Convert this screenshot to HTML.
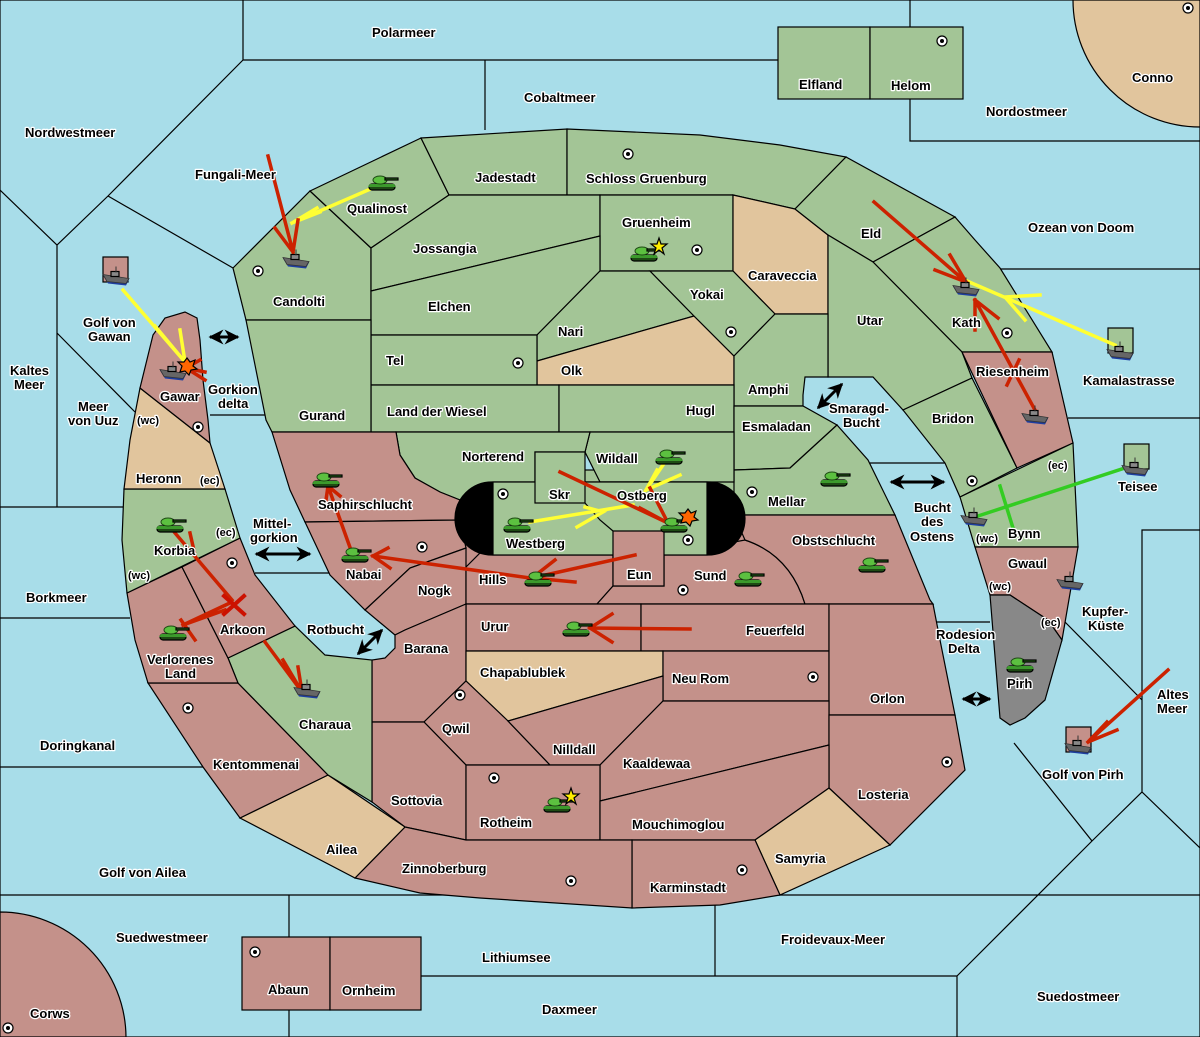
<!DOCTYPE html>
<html><head><meta charset="utf-8"><style>
html,body{margin:0;padding:0;background:#a8dde9}
svg{display:block}
text{font-family:"Liberation Sans",sans-serif;font-weight:bold;font-size:13px;fill:#000;stroke:#fff;stroke-width:2.5px;paint-order:stroke;stroke-linejoin:round}
.g{fill:#a3c596}.r{fill:#c4918a}.t{fill:#e1c59d}
polygon,rect,path.l{stroke:#000;stroke-width:1.2}
.sl{stroke:#000;stroke-width:1.2;fill:none}
</style></head><body>
<svg width="1200" height="1037" viewBox="0 0 1200 1037" xmlns="http://www.w3.org/2000/svg">
<defs>
<symbol id="tk" viewBox="0 0 32 18">
<rect x="2" y="10" width="26" height="6" rx="3" fill="#1e4a14"/>
<path d="M3 10 L27 10 L29 13 L1 13 Z" fill="#3c9a2c"/>
<ellipse cx="13" cy="6" rx="7" ry="4" fill="#5cc040" stroke="#1e4a14" stroke-width="1"/>
<rect x="18" y="4" width="13" height="2" fill="#2e7a20"/>
</symbol>
<symbol id="sh" viewBox="0 0 30 20">
<path d="M1 9 L27 13 L24 19 L6 17 Z" fill="#1e3ea0"/>
<path d="M1 8 L27 12 L24 17 L5 15 Z" fill="#666" stroke="#333" stroke-width="0.8"/>
<rect x="9" y="5" width="8" height="5" fill="#888" stroke="#333" stroke-width="0.6"/>
<line x1="14" y1="0" x2="14" y2="6" stroke="#333" stroke-width="1"/>
</symbol>
<symbol id="sc" viewBox="0 0 12 12"><circle cx="6" cy="6" r="5" fill="#fff" stroke="#000" stroke-width="1.2"/><circle cx="6" cy="6" r="2" fill="#000"/></symbol>
<marker id="ah" viewBox="0 0 10 10" refX="9" refY="5" markerWidth="5" markerHeight="5" orient="auto-start-reverse"><path d="M0 0 L10 5 L0 10 L3 5 Z" fill="#000"/></marker>
</defs>
<rect width="1200" height="1037" fill="#a8dde9" stroke="#000" stroke-width="2"/>
<path class="sl" d="M243 0 V60 H778 M485 60 V130 M910 0 V27 M910 99 V141 H1200 M243 60 L108 196 L57 245 L0 190 M108 196 L233 268 M57 245 V507 M57 333 L135 412 M0 507 H124 M0 618 H130 M0 767 H203 M0 895 H1200 M289 895 V937 M289 1010 V1037 M421 976 H957 V1037 M715 905 V976 M957 976 L1092 841 L1014 743 M1092 841 L1142 792 L1200 848 M1142 792 V530 H1200 M1065 622 L1142 700 M997 269 H1200 M1068 418 H1200 M210 415 H265 M255 573 H330 M870 463 H945 M935 622 H990"/>
<path d="M1073 0 A127 127 0 0 0 1200 127 V0 Z" class="t" stroke="#000" stroke-width="1.2"/>
<path d="M0 912 A126 126 0 0 1 126 1037 H0 Z" class="r" stroke="#000" stroke-width="1.2"/>
<rect x="778" y="27" width="92" height="72" class="g"/><rect x="870" y="27" width="93" height="72" class="g"/>
<rect x="242" y="937" width="88" height="73" class="r"/><rect x="330" y="937" width="91" height="73" class="r"/>
<rect x="103" y="257" width="25" height="25" class="r"/><rect x="1108" y="328" width="25" height="25" class="g"/>
<rect x="1124" y="444" width="25" height="25" class="g"/><rect x="1066" y="727" width="25" height="25" class="r"/>
<!-- background fill behind stadium -->
<rect x="440" y="470" width="320" height="48" fill="#a3c596"/>
<rect x="440" y="518" width="320" height="50" fill="#c4918a"/>
<polygon class="g" points="233,268 310,191 371,248 371,320 246,320"/>
<polygon class="g" points="310,191 421,138 449,195 371,248"/>
<polygon class="g" points="421,138 567,129 567,195 449,195"/>
<polygon class="g" points="567,129 700,135 780,145 846,157 795,209 733,195 567,195"/>
<polygon class="g" points="449,195 600,195 600,236 371,291 371,248"/>
<polygon class="g" points="600,195 733,195 733,271 600,271"/>
<polygon class="g" points="371,291 600,236 600,271 537,335 371,335"/>
<polygon class="t" points="733,195 795,209 828,235 828,314 775,314 733,271"/>
<polygon class="g" points="795,209 846,157 955,217 873,262 828,235"/>
<polygon class="g" points="873,262 955,217 975,240 1000,268 1052,352 962,352"/>
<polygon class="g" points="828,235 873,262 962,352 972,378 903,410 873,377 828,377"/>
<polygon class="g" points="537,335 600,271 650,271 694,316 537,361"/>
<polygon class="t" points="537,361 694,316 734,356 734,385 537,385"/>
<polygon class="g" points="650,271 733,271 775,314 734,356 694,316"/>
<polygon class="g" points="371,335 537,335 537,385 371,385"/>
<polygon class="g" points="734,356 775,314 828,314 828,377 805,377 803,395 803,406 734,406"/>
<polygon class="g" points="371,385 559,385 559,432 371,432"/>
<polygon class="g" points="559,385 734,385 734,432 559,432"/>
<polygon class="g" points="734,406 803,406 837,425 790,468 734,470"/>
<polygon class="g" points="246,320 371,320 371,432 272,432 266,420 258,380"/>
<polygon class="g" points="903,410 972,378 1017,468 960,497 945,463"/>
<polygon class="r" points="962,352 1052,352 1073,443 1017,468"/>
<polygon class="g" points="960,497 1073,443 1078,547 975,547"/>
<polygon class="r" points="975,547 1078,547 1062,640 1048,620 1010,595 990,595"/>
<path class="l" fill="#888" d="M990 595 L1010 595 L1048 620 L1062 640 L1045 700 L1025 718 L1010 725 L1000 718 Z"/>
<polygon class="g" points="734,470 790,468 837,425 868,460 895,515 734,515"/>
<polygon class="g" points="590,432 734,432 734,482 600,482 585,452"/>
<path class="l g" d="M396 432 L590 432 L585 452 L535 452 L535 482 L460 500 L440 492 L415 478 L400 455 Z"/>
<path class="l r" d="M272 432 L396 432 L400 455 L415 478 L440 492 L460 500 L460 520 L305 522 L290 490 Z"/>
<polygon class="r" points="305,522 460,520 466,548 410,568 365,610 330,575"/>
<polygon class="r" points="365,610 410,568 466,548 466,604 405,630 395,635"/>
<polygon class="r" points="466,567 480,553 613,553 613,586 597,604 466,604"/>
<path class="l r" d="M597 604 L613 586 L664 586 L664 555 L745 540 Q790 555 805 604 Z"/>
<path class="l r" d="M734 515 L895 515 L930 600 L933 604 L805 604 Q790 555 745 540 Z"/>
<polygon class="r" points="466,604 641,604 641,651 466,651"/>
<polygon class="r" points="641,604 829,604 829,651 641,651"/>
<path class="l r" d="M405 630 L466 604 L466 681 L424 722 L372 722 L372 660 L385 658 L395 648 L395 635 Z"/>
<polygon class="t" points="466,651 663,651 663,676 508,721 466,681"/>
<polygon class="r" points="663,651 829,651 829,701 663,701"/>
<polygon class="r" points="829,604 933,604 940,640 955,715 829,715"/>
<polygon class="r" points="424,722 466,681 508,721 550,765 466,765"/>
<polygon class="r" points="508,721 663,676 663,701 600,765 550,765"/>
<polygon class="r" points="600,765 663,701 829,701 829,745 600,801"/>
<polygon class="r" points="829,715 955,715 965,770 890,845 829,788"/>
<polygon class="r" points="372,722 424,722 466,765 466,840 405,827 372,802"/>
<polygon class="r" points="466,765 600,765 600,840 466,840"/>
<polygon class="r" points="600,801 829,745 829,788 755,840 600,840"/>
<polygon class="t" points="755,840 829,788 890,845 780,895"/>
<polygon class="r" points="632,840 755,840 780,895 720,905 632,908"/>
<polygon class="r" points="355,878 405,827 466,840 632,840 632,908 480,898 420,893"/>
<polygon class="t" points="240,818 328,775 405,827 355,878"/>
<polygon class="r" points="148,683 238,683 328,775 240,818 203,767"/>
<polygon class="g" points="228,658 295,626 325,655 372,660 372,802 328,775 238,683"/>
<polygon class="r" points="127,593 182,567 228,658 238,683 148,683 135,640"/>
<polygon class="r" points="182,567 240,538 255,575 295,626 228,658"/>
<polygon class="g" points="124,489 225,489 240,538 127,593 122,540"/>
<polygon class="t" points="124,489 130,440 140,388 210,443 225,489"/>
<path class="l r" d="M140 388 L153 335 L165 318 L185 312 L197 318 L200 340 L203 380 L208 420 L210 443 Z"/>
<rect x="455" y="482" width="290" height="73" rx="37" fill="#000"/>
<rect x="493" y="482" width="214" height="73" class="g"/>
<path class="sl" d="M585 503 L600 520 L613 531"/>
<rect x="535" y="452" width="50" height="51" class="g"/>
<polygon class="r" points="613,531 664,531 664,586 613,586"/>
<g>
<use href="#sc" x="936" y="35" width="12" height="12"/><use href="#sc" x="622" y="148" width="12" height="12"/><use href="#sc" x="252" y="265" width="12" height="12"/><use href="#sc" x="691" y="244" width="12" height="12"/><use href="#sc" x="725" y="326" width="12" height="12"/><use href="#sc" x="512" y="357" width="12" height="12"/><use href="#sc" x="1001" y="327" width="12" height="12"/><use href="#sc" x="192" y="421" width="12" height="12"/><use href="#sc" x="497" y="488" width="12" height="12"/><use href="#sc" x="746" y="486" width="12" height="12"/><use href="#sc" x="682" y="534" width="12" height="12"/><use href="#sc" x="416" y="541" width="12" height="12"/><use href="#sc" x="966" y="475" width="12" height="12"/><use href="#sc" x="677" y="584" width="12" height="12"/><use href="#sc" x="182" y="702" width="12" height="12"/><use href="#sc" x="226" y="557" width="12" height="12"/><use href="#sc" x="454" y="689" width="12" height="12"/><use href="#sc" x="807" y="671" width="12" height="12"/><use href="#sc" x="941" y="756" width="12" height="12"/><use href="#sc" x="488" y="772" width="12" height="12"/><use href="#sc" x="565" y="875" width="12" height="12"/><use href="#sc" x="736" y="864" width="12" height="12"/><use href="#sc" x="249" y="946" width="12" height="12"/><use href="#sc" x="2" y="1022" width="12" height="12"/><use href="#sc" x="1182" y="2" width="12" height="12"/>
</g>
<g stroke="#000" stroke-width="3" marker-start="url(#ah)" marker-end="url(#ah)">
<line x1="210" y1="337" x2="238" y2="337"/><line x1="256" y1="554" x2="310" y2="554"/><line x1="891" y1="482" x2="944" y2="482"/><line x1="963" y1="699" x2="990" y2="699"/><line x1="818" y1="408" x2="842" y2="384"/><line x1="358" y1="654" x2="382" y2="630"/>
</g>
<g stroke-width="3.5" fill="none" stroke-linecap="square">
<path stroke="#ffff33" d="M375 187 L292 223 M292 223 L317 208 M292 223 L320 212 M123 290 L185 362 M180 330 L185 362 L155 326 M1115 345 L960 278 M1040 295 L1005 297 L1025 320 M530 522 L633 505 M585 507 L603 512 L577 527 M665 462 L646 490 M657 470 L646 490 L680 475"/>
<path stroke="#33cc22" d="M1125 468 L978 516 M1000 486 L1013 528"/>
<path stroke="#cc2200" d="M268 156 L293 252 M275 228 L293 252 L298 220 M205 372 L186 368 M200 360 L186 368 L205 380 M874 202 L966 282 M935 270 L966 282 M950 255 L966 282 M1035 410 L975 300 M975 300 L998 318 M975 300 L975 330 M1019 360 L1007 385 M560 472 L668 523 M640 508 L668 523 L650 488 M635 555 L532 578 M555 560 L532 578 L575 582 M530 578 L373 556 M388 548 L373 556 L390 568 M352 553 L328 486 M326 500 L328 486 L340 496 M690 629 L590 628 M612 614 L590 628 L612 642 M175 533 L232 600 M190 533 L195 555 M265 642 L302 692 M283 660 L302 692 L298 667 M183 625 L232 602 M183 625 L225 610 M1168 670 L1088 742 M1107 722 L1088 742 L1117 730 M181 620 L195 640"/>
<path stroke="#cc1100" stroke-width="4" d="M224 596 L244 614 M244 596 L224 614"/>
</g>
<g>
<use href="#tk" x="367" y="174" width="32" height="18"/>
<use href="#sh" x="282" y="249" width="30" height="21"/>
<use href="#tk" x="629" y="245" width="32" height="18"/>
<use href="#sh" x="952" y="277" width="30" height="21"/>
<use href="#sh" x="1021" y="405" width="30" height="21"/>
<use href="#sh" x="1106" y="341" width="30" height="21"/>
<use href="#sh" x="1121" y="457" width="30" height="21"/>
<use href="#tk" x="311" y="471" width="32" height="18"/>
<use href="#tk" x="340" y="546" width="32" height="18"/>
<use href="#tk" x="155" y="516" width="32" height="18"/>
<use href="#tk" x="158" y="624" width="32" height="18"/>
<use href="#sh" x="293" y="679" width="30" height="21"/>
<use href="#tk" x="502" y="516" width="32" height="18"/>
<use href="#tk" x="654" y="448" width="32" height="18"/>
<use href="#tk" x="659" y="516" width="32" height="18"/>
<use href="#tk" x="523" y="570" width="32" height="18"/>
<use href="#tk" x="561" y="620" width="32" height="18"/>
<use href="#tk" x="733" y="570" width="32" height="18"/>
<use href="#tk" x="819" y="470" width="32" height="18"/>
<use href="#tk" x="857" y="556" width="32" height="18"/>
<use href="#sh" x="960" y="507" width="30" height="21"/>
<use href="#sh" x="1056" y="571" width="30" height="21"/>
<use href="#tk" x="1005" y="656" width="32" height="18"/>
<use href="#tk" x="542" y="796" width="32" height="18"/>
<use href="#sh" x="102" y="266" width="30" height="21"/>
<use href="#sh" x="159" y="361" width="30" height="21"/>
<use href="#sh" x="1064" y="735" width="30" height="21"/>
</g>
<g fill="#ffee00" stroke="#886600" stroke-width="0.8">
<polygon points="659,238 661,244 667,244 662,248 664,254 659,250 654,254 656,248 651,244 657,244"/>
<polygon points="571,788 573,794 579,794 574,798 576,804 571,800 566,804 568,798 563,794 569,794"/>
</g>
<g fill="#ff6600" stroke="#000" stroke-width="0.8">
<polygon points="187,358 190,362 195,360 193,366 197,369 191,370 189,375 185,371 180,372 182,366 178,362 184,362"/>
<polygon points="688,509 691,513 696,511 694,517 698,520 692,521 690,526 686,522 681,523 683,517 679,513 685,513"/>
</g>
<g>
<text x="372" y="37">Polarmeer</text><text x="524" y="102">Cobaltmeer</text><text x="799" y="89">Elfland</text><text x="891" y="90">Helom</text><text x="1132" y="82">Conno</text><text x="986" y="116">Nordostmeer</text><text x="25" y="137">Nordwestmeer</text><text x="195" y="179">Fungali-Meer</text><text x="347" y="213">Qualinost</text><text x="475" y="182">Jadestadt</text><text x="586" y="183">Schloss Gruenburg</text><text x="622" y="227">Gruenheim</text><text x="413" y="253">Jossangia</text><text x="748" y="280">Caraveccia</text><text x="861" y="238">Eld</text><text x="1028" y="232">Ozean von Doom</text><text x="273" y="306">Candolti</text><text x="428" y="311">Elchen</text><text x="690" y="299">Yokai</text><text x="558" y="336">Nari</text><text x="857" y="325">Utar</text><text x="952" y="327">Kath</text><text x="83" y="327">Golf von</text><text x="88" y="341">Gawan</text><text x="10" y="375">Kaltes</text><text x="14" y="389">Meer</text><text x="386" y="365">Tel</text><text x="561" y="375">Olk</text><text x="976" y="376">Riesenheim</text><text x="1083" y="385">Kamalastrasse</text><text x="748" y="394">Amphi</text><text x="78" y="411">Meer</text><text x="68" y="425">von Uuz</text><text x="137" y="424" style="font-size:11px">(wc)</text><text x="160" y="401">Gawar</text><text x="208" y="394">Gorkion</text><text x="218" y="408">delta</text><text x="299" y="420">Gurand</text><text x="387" y="416">Land der Wiesel</text><text x="686" y="415">Hugl</text><text x="829" y="413">Smaragd-</text><text x="843" y="427">Bucht</text><text x="932" y="423">Bridon</text><text x="742" y="431">Esmaladan</text><text x="462" y="461">Norterend</text><text x="596" y="463">Wildall</text><text x="136" y="483">Heronn</text><text x="200" y="484" style="font-size:11px">(ec)</text><text x="1048" y="469" style="font-size:11px">(ec)</text><text x="1118" y="491">Teisee</text><text x="549" y="499">Skr</text><text x="617" y="500">Ostberg</text><text x="768" y="506">Mellar</text><text x="914" y="512">Bucht</text><text x="921" y="526">des</text><text x="910" y="541">Ostens</text><text x="318" y="509">Saphirschlucht</text><text x="253" y="528">Mittel-</text><text x="250" y="542">gorkion</text><text x="216" y="536" style="font-size:11px">(ec)</text><text x="154" y="555">Korbia</text><text x="506" y="548">Westberg</text><text x="792" y="545">Obstschlucht</text><text x="1008" y="538">Bynn</text><text x="976" y="542" style="font-size:11px">(wc)</text><text x="1008" y="568">Gwaul</text><text x="346" y="579">Nabai</text><text x="479" y="584">Hills</text><text x="627" y="579">Eun</text><text x="694" y="580">Sund</text><text x="128" y="579" style="font-size:11px">(wc)</text><text x="989" y="590" style="font-size:11px">(wc)</text><text x="418" y="595">Nogk</text><text x="26" y="602">Borkmeer</text><text x="1082" y="616">Kupfer-</text><text x="1088" y="630">Küste</text><text x="1041" y="626" style="font-size:11px">(ec)</text><text x="481" y="631">Urur</text><text x="746" y="635">Feuerfeld</text><text x="307" y="634">Rotbucht</text><text x="220" y="634">Arkoon</text><text x="936" y="639">Rodesion</text><text x="948" y="653">Delta</text><text x="404" y="653">Barana</text><text x="147" y="664">Verlorenes</text><text x="165" y="678">Land</text><text x="480" y="677">Chapablublek</text><text x="672" y="683">Neu Rom</text><text x="1007" y="688">Pirh</text><text x="870" y="703">Orlon</text><text x="1157" y="699">Altes</text><text x="1157" y="713">Meer</text><text x="442" y="733">Qwil</text><text x="299" y="729">Charaua</text><text x="40" y="750">Doringkanal</text><text x="553" y="754">Nilldall</text><text x="623" y="768">Kaaldewaa</text><text x="213" y="769">Kentommenai</text><text x="1042" y="779">Golf von Pirh</text><text x="858" y="799">Losteria</text><text x="391" y="805">Sottovia</text><text x="480" y="827">Rotheim</text><text x="632" y="829">Mouchimoglou</text><text x="326" y="854">Ailea</text><text x="775" y="863">Samyria</text><text x="402" y="873">Zinnoberburg</text><text x="99" y="877">Golf von Ailea</text><text x="650" y="892">Karminstadt</text><text x="116" y="942">Suedwestmeer</text><text x="781" y="944">Froidevaux-Meer</text><text x="482" y="962">Lithiumsee</text><text x="268" y="994">Abaun</text><text x="342" y="995">Ornheim</text><text x="1037" y="1001">Suedostmeer</text><text x="542" y="1014">Daxmeer</text><text x="30" y="1018">Corws</text>
</g>
</svg>
</body></html>
